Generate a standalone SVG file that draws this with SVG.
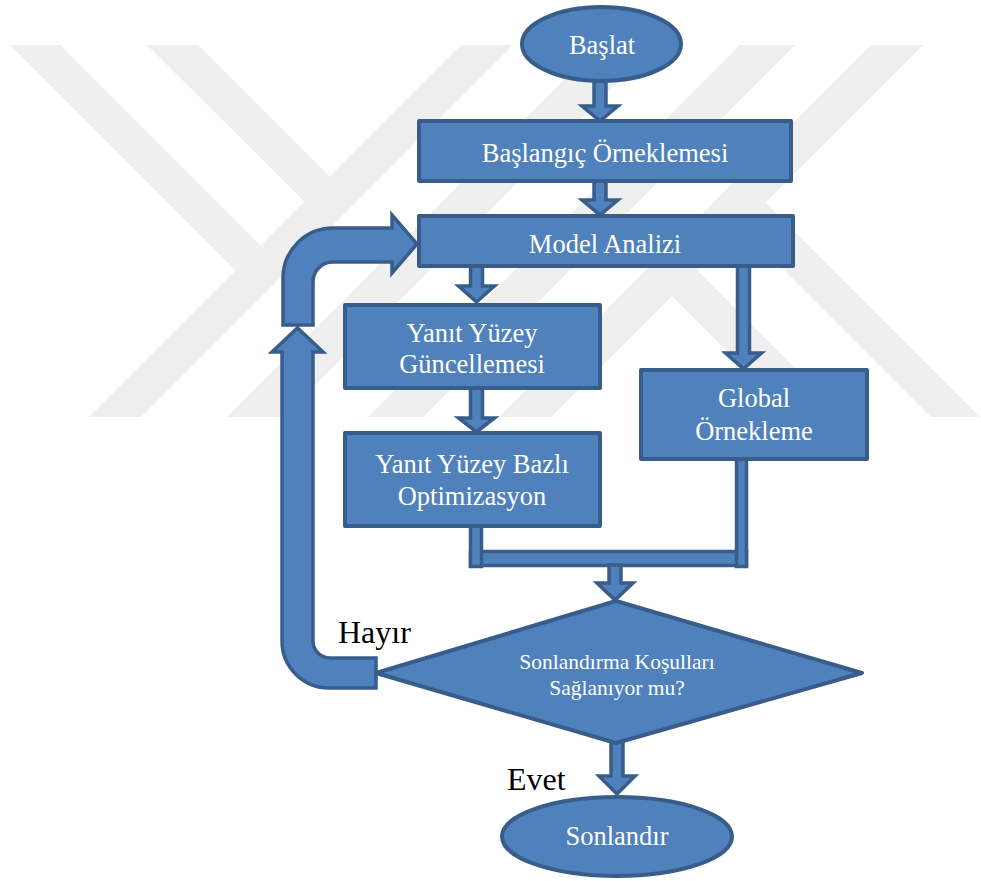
<svg xmlns="http://www.w3.org/2000/svg" width="981" height="881" viewBox="0 0 981 881">
  <style>
    .wm { fill: #efefef; }
    .shape { fill: #4f81bd; stroke: #385d8a; stroke-width: 4; stroke-linejoin: round; }
    .flow { fill: #4f81bd; stroke: #385d8a; stroke-width: 3.5; stroke-linejoin: miter; }
    .lbl { font-family: "Liberation Serif", "Times New Roman", serif; font-size: 26.5px; fill: #ffffff; text-anchor: middle; }
    .small { font-size: 21.5px; }
    .tag { font-family: "Liberation Serif", "Times New Roman", serif; font-size: 32px; fill: #000000; }
  </style>

  <rect width="981" height="881" fill="#ffffff"/>

  <!-- faint background emblem made of diagonal bands -->
  <g id="emblem">
    <polygon class="wm" points="461,45 513,45 141,417 89,417"/>
    <polygon class="wm" points="10,45 60,45 286,271 261,296"/>
    <polygon class="wm" points="147,45 198,45 345,192 320,217"/>
    <polygon class="wm" points="599,45 655,45 283,417 227,417"/>
    <polygon class="wm" points="740,45 795,45 423,417 368,417"/>
    <polygon class="wm" points="871,45 923,45 551,417 499,417"/>
    <polygon class="wm" points="684.5,257.5 844,417 793,417 659,283"/>
    <polygon class="wm" points="739.5,176.5 980,417 931,417 715,201"/>
  </g>

  <!-- connectors -->
  <g id="connectors">
    <!-- Başlat -> Başlangıç Örneklemesi -->
    <path class="flow" d="M594,78 L606,78 L606,106 L618,106 L600,121 L582,106 L594,106 Z"/>
    <!-- Başlangıç Örneklemesi -> Model Analizi -->
    <path class="flow" d="M594,180 L606,180 L606,200 L618,200 L600,215 L582,200 L594,200 Z"/>
    <!-- Model Analizi -> Yanıt Yüzey Güncellemesi -->
    <path class="flow" d="M470.5,265 L482.5,265 L482.5,286 L494.5,286 L476.5,302 L458.5,286 L470.5,286 Z"/>
    <!-- Yanıt Yüzey Güncellemesi -> Yanıt Yüzey Bazlı Optimizasyon -->
    <path class="flow" d="M470.5,387 L482.5,387 L482.5,418 L494.5,418 L476.5,432 L458.5,418 L470.5,418 Z"/>
    <!-- Model Analizi -> Global Örnekleme -->
    <path class="flow" d="M737.5,265 L749.5,265 L749.5,353 L761.5,353 L743.5,369 L725.5,353 L737.5,353 Z"/>
    <!-- merge of both branches -->
    <rect class="flow" x="470.5" y="551.5" width="276" height="14" stroke-width="3"/>
    <rect class="flow" x="470.5" y="524" width="11" height="42.5" stroke-width="3"/>
    <rect class="flow" x="736.5" y="457" width="10" height="109.5" stroke-width="3"/>
    <!-- merge -> decision -->
    <path class="flow" d="M609,565 L621,565 L621,583 L633,583 L615,600 L597,583 L609,583 Z"/>
    <!-- decision -> Sonlandır (Evet) -->
    <path class="flow" d="M611,740 L623,740 L623,776 L635,776 L617,794 L599,776 L611,776 Z"/>
    <!-- Hayır loop: lower leg rising from the decision -->
    <path class="flow" d="M376,658 L330,658 A17,17 0 0 1 313,641 L313,352 L323,352 L297.5,328 L272,352 L282,352 L282,641 A47,47 0 0 0 329,688 L376,688 Z"/>
    <!-- Hayır loop: upper leg returning into Model Analizi -->
    <path class="flow" d="M283,325 L283,278 A50,50 0 0 1 333,228 L392,228 L392,215 L417,244 L392,273 L392,262 L333,262 A20,20 0 0 0 313,282 L313,325 Z"/>
  </g>

  <g id="start">
    <ellipse class="shape" cx="601.5" cy="44" rx="79.5" ry="37"/>
    <text class="lbl" x="602" y="54">Başlat</text>
  </g>

  <g id="initial-sampling">
    <rect class="shape" x="419" y="121" width="372" height="60"/>
    <text class="lbl" x="605" y="162">Başlangıç Örneklemesi</text>
  </g>

  <g id="model-analysis">
    <rect class="shape" x="419" y="216" width="374" height="50"/>
    <text class="lbl" x="605" y="253">Model Analizi</text>
  </g>

  <g id="surface-update">
    <rect class="shape" x="345" y="305" width="255" height="83"/>
    <text class="lbl" x="472" y="342">Yanıt Yüzey</text>
    <text class="lbl" x="472" y="373">Güncellemesi</text>
  </g>

  <g id="surface-optimization">
    <rect class="shape" x="345" y="433" width="255" height="93"/>
    <text class="lbl" x="472" y="473">Yanıt Yüzey Bazlı</text>
    <text class="lbl" x="472" y="505">Optimizasyon</text>
  </g>

  <g id="global-sampling">
    <rect class="shape" x="641" y="370" width="226" height="89"/>
    <text class="lbl" x="754" y="407">Global</text>
    <text class="lbl" x="754" y="440">Örnekleme</text>
  </g>

  <g id="termination-check">
    <polygon class="shape" points="616,601 862,673 616,743 376,673"/>
    <text class="lbl small" x="617" y="669">Sonlandırma Koşulları</text>
    <text class="lbl small" x="617" y="695">Sağlanıyor mu?</text>
  </g>

  <g id="end">
    <ellipse class="shape" cx="617" cy="836.5" rx="115" ry="39.5"/>
    <text class="lbl" x="617" y="845">Sonlandır</text>
  </g>

  <g id="branch-labels">
    <text class="tag" x="338" y="643">Hayır</text>
    <text class="tag" x="507" y="790">Evet</text>
  </g>
</svg>
